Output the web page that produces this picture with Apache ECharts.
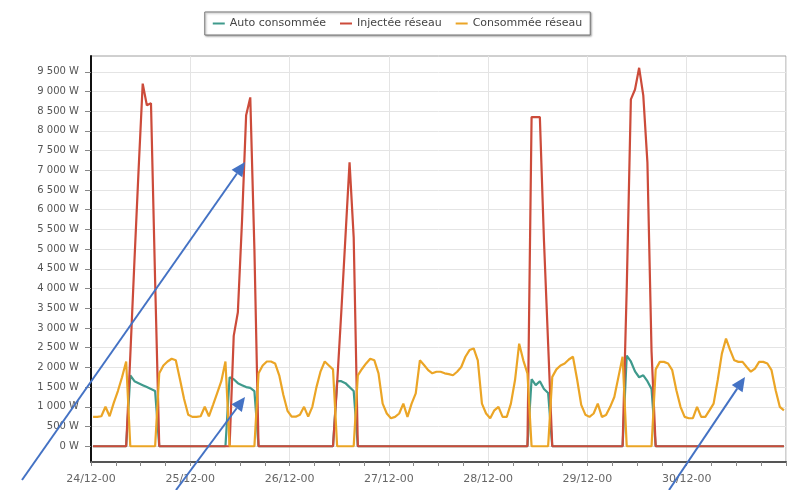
<!DOCTYPE html>
<html>
<head>
<meta charset="utf-8">
<script src="https://cdn.jsdelivr.net/npm/echarts@6/dist/echarts.min.js"></script>
<style>
  html, body { margin: 0; padding: 0; background: #ffffff; }
  #chart { width: 795px; height: 490px; }
</style>
</head>
<body>
<div id="chart"></div>
<script>
// Day labels on the time axis (one per day, at midnight)
const dayLabels = ['24/12-00', '25/12-00', '26/12-00', '27/12-00', '28/12-00', '29/12-00', '30/12-00'];

// Hourly power readings (W), one value per hour starting 24/12 00:00
const autoConsommee = [
  0, 0, 0, 0, 0, 0, 0, 0, 0, 1800, 1650, 1600, 1550, 1500, 1450, 1400, 0, 0, 0, 0, 0, 0, 0, 0,
  0, 0, 0, 0, 0, 0, 0, 0, 0, 1750, 1700, 1600, 1550, 1500, 1480, 1400, 0, 0, 0, 0, 0, 0, 0, 0,
  0, 0, 0, 0, 0, 0, 0, 0, 0, 0, 0, 1650, 1650, 1600, 1500, 1400, 0, 0, 0, 0, 0, 0, 0, 0,
  0, 0, 0, 0, 0, 0, 0, 0, 0, 0, 0, 0, 0, 0, 0, 0, 0, 0, 0, 0, 0, 0, 0, 0,
  0, 0, 0, 0, 0, 0, 0, 0, 0, 0, 1700, 1550, 1650, 1450, 1350, 0, 0, 0, 0, 0, 0, 0, 0, 0,
  0, 0, 0, 0, 0, 0, 0, 0, 0, 2300, 2150, 1900, 1750, 1800, 1650, 1450, 0, 0, 0, 0, 0, 0, 0, 0,
  0, 0, 0, 0, 0, 0, 0, 0, 0, 0, 0, 0, 0, 0, 0, 0, 0, 0, 0, 0, 0, 0, 0, 0
];
const injecteeReseau = [
  0, 0, 0, 0, 0, 0, 0, 0, 0, 2300, 4700, 7000, 9200, 8650, 8700, 4200, 0, 0, 0, 0, 0, 0, 0, 0,
  0, 0, 0, 0, 0, 0, 0, 0, 0, 0, 2800, 3400, 5700, 8400, 8850, 5000, 0, 0, 0, 0, 0, 0, 0, 0,
  0, 0, 0, 0, 0, 0, 0, 0, 0, 0, 0, 1600, 3400, 5300, 7200, 5300, 0, 0, 0, 0, 0, 0, 0, 0,
  0, 0, 0, 0, 0, 0, 0, 0, 0, 0, 0, 0, 0, 0, 0, 0, 0, 0, 0, 0, 0, 0, 0, 0,
  0, 0, 0, 0, 0, 0, 0, 0, 0, 0, 8350, 8350, 8350, 5200, 2600, 0, 0, 0, 0, 0, 0, 0, 0, 0,
  0, 0, 0, 0, 0, 0, 0, 0, 0, 4000, 8800, 9050, 9600, 8900, 7200, 2400, 0, 0, 0, 0, 0, 0, 0, 0,
  0, 0, 0, 0, 0, 0, 0, 0, 0, 0, 0, 0, 0, 0, 0, 0, 0, 0, 0, 0, 0, 0, 0, 0
];
const consommeeReseau = [
  745, 745, 760, 1000, 760, 1100, 1400, 1750, 2150, 0, 0, 0, 0, 0, 0, 0, 1850, 2050, 2150, 2220, 2180, 1700, 1200, 800,
  745, 745, 760, 1000, 760, 1050, 1350, 1650, 2150, 0, 0, 0, 0, 0, 0, 0, 1850, 2050, 2150, 2150, 2100, 1800, 1300, 900,
  750, 750, 800, 1000, 750, 1000, 1500, 1900, 2150, 2050, 1950, 0, 0, 0, 0, 0, 1800, 1960, 2100, 2220, 2180, 1850, 1080, 830,
  710, 745, 830, 1080, 745, 1080, 1340, 2180, 2060, 1930, 1850, 1890, 1890, 1850, 1830, 1800, 1890, 2010, 2270, 2440, 2480, 2180, 1080, 830,
  710, 910, 1000, 745, 745, 1080, 1680, 2600, 2180, 1850, 0, 0, 0, 0, 0, 1760, 1950, 2050, 2100, 2200, 2270, 1700, 1050, 800,
  745, 830, 1080, 745, 790, 1000, 1250, 1760, 2270, 0, 0, 0, 0, 0, 0, 0, 1950, 2140, 2140, 2100, 1930, 1420, 1000, 745,
  710, 710, 1000, 745, 745, 910, 1080, 1680, 2350, 2730, 2440, 2180, 2140, 2140, 2010, 1890, 1970, 2140, 2140, 2100, 1930, 1420, 1000, 910
];

// Power axis tick values (W)
const yTickValues = [0, 500, 1000, 1500, 2000, 2500, 3000, 3500, 4000, 4500,
  5000, 5500, 6000, 6500, 7000, 7500, 8000, 8500, 9000, 9500];

// Each hourly value is placed at the middle of its hour
const toPairs = arr => arr.map((v, i) => [i + 0.5, v]);
const formatWatts = v => String(Math.round(v)).replace(/\B(?=(\d{3})+(?!\d))/g, ' ') + ' W';

const chart = echarts.init(document.getElementById('chart'), null, { renderer: 'canvas' });

// Annotation arrows drawn over the chart
const arrowColor = '#4472c4';
function arrowShapes(x1, y1, x2, y2) {
  const ang = Math.atan2(y2 - y1, x2 - x1);
  const len = 14, half = 6.5;
  const bx = x2 - len * Math.cos(ang), by = y2 - len * Math.sin(ang);
  const px = -Math.sin(ang) * half, py = Math.cos(ang) * half;
  return [
    { type: 'line', z: 100, shape: { x1: x1, y1: y1, x2: bx, y2: by },
      style: { stroke: arrowColor, lineWidth: 2 } },
    { type: 'polygon', z: 100, shape: { points: [[x2, y2], [bx + px, by + py], [bx - px, by - py]] },
      style: { fill: arrowColor } }
  ];
}
const arrows = [].concat(
  arrowShapes(22, 480, 245, 162),
  arrowShapes(176, 490, 245, 397),
  arrowShapes(669, 490, 745, 377)
);

const lineSeries = (name, data, color) => ({
  name: name,
  type: 'line',
  data: toPairs(data),
  symbol: 'none',
  showSymbol: false,
  lineStyle: { width: 2.2, color: color },
  itemStyle: { color: color },
  emphasis: { disabled: true }
});

chart.setOption({
  animation: false,
  backgroundColor: '#ffffff',
  textStyle: { fontFamily: 'DejaVu Sans' },
  legend: {
    top: 12,
    left: 'center',
    icon: 'rect',
    itemWidth: 12,
    itemHeight: 2,
    itemGap: 14,
    padding: [6, 8, 6, 8],
    borderColor: '#777',
    borderWidth: 1,
    backgroundColor: '#ffffff',
    shadowColor: 'rgba(0,0,0,0.35)',
    shadowBlur: 2,
    shadowOffsetX: 1,
    shadowOffsetY: 1,
    textStyle: { fontSize: 11, color: '#444', fontFamily: 'DejaVu Sans' },
    data: ['Auto consommée', 'Injectée réseau', 'Consommée réseau']
  },
  grid: {
    left: 91, right: 9, top: 56, bottom: 28,
    show: true,
    borderColor: '#a0a0a0',
    borderWidth: 1,
    outerBoundsMode: 'none',
    containLabel: false
  },
  xAxis: {
    type: 'value',
    min: 0,
    max: 168,
    interval: 24,
    axisLine: { show: true, onZero: false, lineStyle: { color: '#555', width: 2 } },
    axisTick: { show: true, length: 4, lineStyle: { color: '#888' } },
    minorTick: { show: true, splitNumber: 4, length: 4, lineStyle: { color: '#888' } },
    splitLine: { show: true, lineStyle: { color: '#e4e4e4', width: 1 } },
    axisLabel: {
      margin: 12,
      fontSize: 11,
      color: '#666',
      fontFamily: 'DejaVu Sans',
      showMaxLabel: false,
      formatter: v => dayLabels[Math.round(v / 24)] || ''
    }
  },
  yAxis: {
    type: 'value',
    min: -400,
    max: 9900,
    axisLine: { show: true, onZero: false, lineStyle: { color: '#111', width: 2 } },
    axisTick: { show: true, length: 6, customValues: yTickValues, lineStyle: { color: '#888' } },
    splitLine: { show: true, lineStyle: { color: '#e4e4e4', width: 1 } },
    axisLabel: {
      customValues: yTickValues,
      margin: 12,
      fontSize: 10,
      color: '#555',
      fontFamily: 'DejaVu Sans',
      formatter: v => formatWatts(v)
    }
  },
  series: [
    lineSeries('Auto consommée', autoConsommee, '#3f9a8c'),
    lineSeries('Injectée réseau', injecteeReseau, '#cc4b3a'),
    lineSeries('Consommée réseau', consommeeReseau, '#eba526')
  ],
  graphic: arrows
});
</script>
</body>
</html>
